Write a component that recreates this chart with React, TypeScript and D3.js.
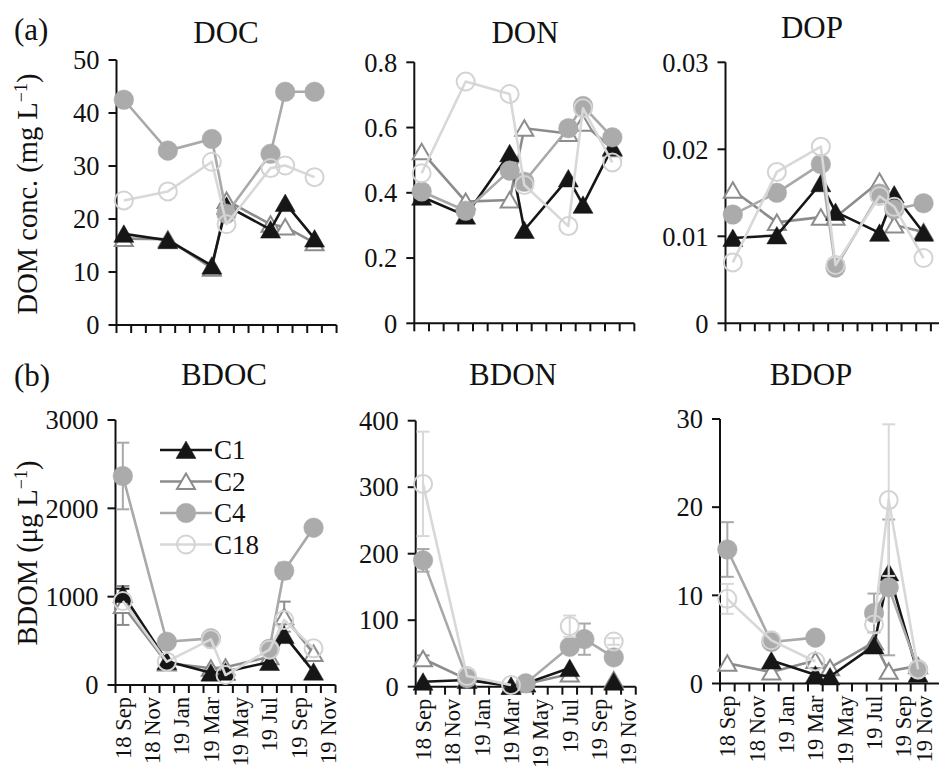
import React from 'react';
import * as d3 from 'd3';

// ---------- data ----------
const monthLabels = ['18 Sep', '18 Nov', '19 Jan', '19 Mar', '19 May', '19 Jul', '19 Sep', '19 Nov'];
const sampleMonths = [0, 3, 6, 7, 10, 11, 13]; // months after Sep 2018
const seriesNames = ['C1', 'C2', 'C4', 'C18'];

const docTicks = [0, 10, 20, 30, 40, 50];
const donTicks = [0, 0.2, 0.4, 0.6, 0.8];
const dopTicks = [0, 0.01, 0.02, 0.03];
const bdocTicks = [0, 1000, 2000, 3000];
const bdonTicks = [0, 100, 200, 300, 400];
const bdopTicks = [0, 10, 20, 30];

const docC1 = [17.2, 16.0, 11.2, 22.5, 18.0, 23.0, 16.3];
const docC2 = [16.3, 16.2, 10.7, 23.5, 19.0, 18.5, 15.5];
const docC4 = [42.5, 32.9, 35.1, 21.0, 32.3, 44.0, 44.0];
const docC18 = [23.5, 25.2, 30.8, 19.0, 29.6, 30.1, 27.9];

const donC1 = [0.388, 0.33, 0.521, 0.286, 0.444, 0.363, 0.54];
const donC2 = [0.526, 0.373, 0.378, 0.598, 0.582, 0.613, 0.535];
const donC4 = [0.404, 0.345, 0.468, 0.434, 0.598, 0.666, 0.57];
const donC18 = [0.46, 0.741, 0.703, 0.424, 0.298, 0.659, 0.493];

const dopC1 = [0.0098, 0.0101, 0.0161, 0.0128, 0.0104, 0.0148, 0.0104];
const dopC2 = [0.0153, 0.0116, 0.0122, 0.0122, 0.0163, 0.0113, 0.0105];
const dopC4 = [0.0125, 0.015, 0.0183, 0.0064, 0.0149, 0.0131, 0.0138];
const dopC18 = [0.007, 0.0174, 0.0203, 0.0067, 0.0146, 0.0134, 0.0075];

const bdocC1 = [1030, 270, 140, 150, 260, 565, 151];
const bdocC2 = [900, 250, 190, 200, 320, 774, 358];
const bdocC4 = [2366, 490, 528, null, 410, 1294, 1781];
const bdocC18 = [950, 264, 517, 113, 400, 736, 415];
const bdocErrC1 = [60, null, null, null, null, null, null];
const bdocErrC2 = [220, null, null, null, null, 170, null];
const bdocErrC4 = [377, null, null, null, null, 90, null];
const bdocErrC18 = [null, null, null, null, null, null, null];

const bdonC1 = [7.5, 10, 1, 5, 28, null, 7.5];
const bdonC2 = [42, 11, 1, 4, 19, null, 10];
const bdonC4 = [190, 12.5, null, 5, 60, 71.5, 44];
const bdonC18 = [305, 16, 2.5, null, 91, null, 68];
const bdonErrC1 = [null, null, null, null, null, null, null];
const bdonErrC2 = [5, null, null, null, null, null, null];
const bdonErrC4 = [17, null, null, null, null, 23.5, null];
const bdonErrC18 = [78.5, null, null, null, 16, null, 5];

const bdopC1 = [null, 2.6, 1.0, 0.8, 4.3, 12.6, 1.1];
const bdopC2 = [2.3, 1.3, 2.6, 1.8, 4.7, 1.4, 2.0];
const bdopC4 = [15.2, 4.7, 5.2, null, 8.0, 10.9, 1.6];
const bdopC18 = [9.6, 4.9, 2.5, null, 6.7, 20.8, 1.6];
const bdopErrC1 = [null, null, null, null, null, null, null];
const bdopErrC2 = [null, null, null, null, null, null, null];
const bdopErrC4 = [3.1, null, null, null, 2.2, 7.7, null];
const bdopErrC18 = [1.7, null, null, null, null, 8.6, null];

// ---------- styling / layout ----------
const FONT = "'Liberation Serif', 'DejaVu Serif', 'Noto Serif', Times, serif";
const MONTH_W = 14.67;
const N_MONTHS = 15;
const AXIS_W = 2;

type Style = { line: string; fill: string; stroke: string; shape: 'tri' | 'circ'; hollow: boolean };
const styles: Style[] = [
  { line: '#161616', fill: '#161616', stroke: '#161616', shape: 'tri', hollow: false },
  { line: '#8c8c8c', fill: '#ffffff', stroke: '#8c8c8c', shape: 'tri', hollow: true },
  { line: '#a9a9a9', fill: '#ababab', stroke: '#ababab', shape: 'circ', hollow: false },
  { line: '#d8d8d8', fill: 'none', stroke: '#d3d3d3', shape: 'circ', hollow: true },
];
// drawing order: C2 below C1 so black triangles sit on the hollow ones
const drawOrder = [1, 0, 2, 3];

type PanelDef = {
  title: string;
  x0: number;
  yTop: number;
  yBot: number;
  ticks: number[];
  series: (number | null)[][];
  errs?: (number | null)[][];
  titleX: number;
  titleY: number;
  xLabels: boolean;
};

const panels: PanelDef[] = [
  { title: 'DOC', x0: 116.5, yTop: 60, yBot: 325, ticks: docTicks, series: [docC1, docC2, docC4, docC18], titleX: 226, titleY: 43, xLabels: false },
  { title: 'DON', x0: 414.3, yTop: 62.3, yBot: 323.3, ticks: donTicks, series: [donC1, donC2, donC4, donC18], titleX: 525, titleY: 43, xLabels: false },
  { title: 'DOP', x0: 725.5, yTop: 62.3, yBot: 323.3, ticks: dopTicks, series: [dopC1, dopC2, dopC4, dopC18], titleX: 812, titleY: 38, xLabels: false },
  { title: 'BDOC', x0: 115.5, yTop: 420, yBot: 685, ticks: bdocTicks, series: [bdocC1, bdocC2, bdocC4, bdocC18], errs: [bdocErrC1, bdocErrC2, bdocErrC4, bdocErrC18], titleX: 224, titleY: 385, xLabels: true },
  { title: 'BDON', x0: 415.7, yTop: 420.7, yBot: 686.7, ticks: bdonTicks, series: [bdonC1, bdonC2, bdonC4, bdonC18], errs: [bdonErrC1, bdonErrC2, bdonErrC4, bdonErrC18], titleX: 513, titleY: 385, xLabels: true },
  { title: 'BDOP', x0: 720, yTop: 419, yBot: 683.5, ticks: bdopTicks, series: [bdopC1, bdopC2, bdopC4, bdopC18], errs: [bdopErrC1, bdopErrC2, bdopErrC4, bdopErrC18], titleX: 811, titleY: 385, xLabels: true },
];

const txt = (size: number): React.CSSProperties => ({ fontFamily: FONT, fontSize: size, fill: '#111' });

function Marker({ st, x, y }: { st: Style; x: number; y: number }) {
  if (st.shape === 'tri') {
    const d = st.hollow ? 'M0,-8L9,7.5L-9,7.5Z' : 'M0,-9L10,8.5L-10,8.5Z';
    return (
      <path
        d={d}
        transform={`translate(${x},${y})`}
        fill={st.fill}
        stroke={st.stroke}
        strokeWidth={st.hollow ? 2 : 0.5}
      />
    );
  }
  return (
    <circle cx={x} cy={y} r={st.hollow ? 9 : 9.8} fill={st.fill} stroke={st.stroke} strokeWidth={st.hollow ? 2 : 0.5} />
  );
}

function fmtTick(v: number) {
  return String(+v.toFixed(4));
}

function Panel({ p }: { p: PanelDef }) {
  const x = d3.scaleLinear().domain([0, N_MONTHS]).range([p.x0, p.x0 + N_MONTHS * MONTH_W]);
  const y = d3.scaleLinear().domain([0, p.ticks[p.ticks.length - 1]]).range([p.yBot, p.yTop]);
  const cx = (m: number) => x(m + 0.5);
  const line = d3
    .line<{ m: number; v: number | null }>()
    .defined((d) => d.v !== null && d.v !== undefined)
    .x((d) => cx(d.m))
    .y((d) => y(d.v as number));

  const monthTicks = d3.range(0, N_MONTHS + 1);

  return (
    <g>
      <text x={p.titleX} y={p.titleY} textAnchor="middle" style={txt(31)}>
        {p.title}
      </text>
      {/* y axis */}
      <line x1={p.x0} x2={p.x0} y1={p.yBot} y2={p.yTop} stroke="#111" strokeWidth={AXIS_W} />
      {p.ticks.map((t) => (
        <g key={t}>
          <line x1={p.x0 - 8} x2={p.x0} y1={y(t)} y2={y(t)} stroke="#111" strokeWidth={AXIS_W} />
          <text x={p.x0 - 17} y={y(t)} dy="0.35em" textAnchor="end" style={txt(26.5)}>
            {fmtTick(t)}
          </text>
        </g>
      ))}
      {/* x axis */}
      <line x1={p.x0} x2={x(N_MONTHS)} y1={p.yBot} y2={p.yBot} stroke="#111" strokeWidth={AXIS_W} />
      {monthTicks.map((m) => (
        <line key={m} x1={x(m)} x2={x(m)} y1={p.yBot} y2={p.yBot + 8} stroke="#111" strokeWidth={AXIS_W} />
      ))}
      {p.xLabels &&
        monthLabels.map((lab, i) => (
          <text
            key={lab}
            transform={`translate(${Math.min(cx(i * 2), 924)},${p.yBot + 12}) rotate(-90)`}
            dy="0.35em"
            textAnchor="end"
            style={txt(22.5)}
          >
            {lab}
          </text>
        ))}
      {/* series */}
      {drawOrder.map((si) => {
        const vals = p.series[si];
        const st = styles[si];
        const pts = vals.map((v, i) => ({ m: sampleMonths[i], v }));
        const errs = p.errs ? p.errs[si] : null;
        return (
          <g key={si}>
            {errs &&
              pts.map((d, i) => {
                const e = errs[i];
                if (d.v === null || e === null || e === undefined) return null;
                const xx = cx(d.m);
                const y1 = y(d.v + e);
                const y2 = y(Math.max(0, d.v - e));
                return (
                  <g key={i} stroke={st.line} strokeWidth={2}>
                    <line x1={xx} x2={xx} y1={y1} y2={y2} />
                    <line x1={xx - 6.5} x2={xx + 6.5} y1={y1} y2={y1} />
                    <line x1={xx - 6.5} x2={xx + 6.5} y1={y2} y2={y2} />
                  </g>
                );
              })}
            <path d={line(pts) || ''} fill="none" stroke={st.line} strokeWidth={2.6} strokeLinejoin="round" />
            {pts.map((d, i) => (d.v === null ? null : <Marker key={i} st={st} x={cx(d.m)} y={y(d.v)} />))}
          </g>
        );
      })}
    </g>
  );
}

function Legend() {
  const rows = [450, 481.5, 513, 544.5];
  return (
    <g>
      {seriesNames.map((name, i) => {
        const st = styles[i];
        return (
          <g key={name}>
            <line x1={160} x2={212} y1={rows[i]} y2={rows[i]} stroke={st.line} strokeWidth={2.6} />
            <Marker st={st} x={186} y={rows[i]} />
            <text x={214} y={rows[i]} dy="0.35em" style={txt(27)}>
              {name}
            </text>
          </g>
        );
      })}
    </g>
  );
}

export default function App() {
  return (
    <svg
      width={939}
      height={768}
      viewBox="0 0 939 768"
      style={{ position: 'absolute', left: 0, top: 0, background: '#fff' }}
    >
      <rect x={0} y={0} width={939} height={768} fill="#fff" />
      <text x={14} y={40} style={txt(31)}>(a)</text>
      <text x={14} y={386} style={txt(31)}>(b)</text>
      <text transform="translate(27,194) rotate(-90)" dy="0.35em" textAnchor="middle" style={txt(28.5)}>
        <tspan>DOM conc. (mg L</tspan>
        <tspan dy={-10} style={{ fontSize: 18 }}>−1</tspan>
        <tspan dy={10}>)</tspan>
      </text>
      <text transform="translate(27,553) rotate(-90)" dy="0.35em" textAnchor="middle" style={txt(28.5)}>
        <tspan>BDOM (μg L</tspan>
        <tspan dy={-10} style={{ fontSize: 18 }}>−1</tspan>
        <tspan dy={10}>)</tspan>
      </text>
      {panels.map((p) => (
        <Panel key={p.title} p={p} />
      ))}
      <Legend />
    </svg>
  );
}
